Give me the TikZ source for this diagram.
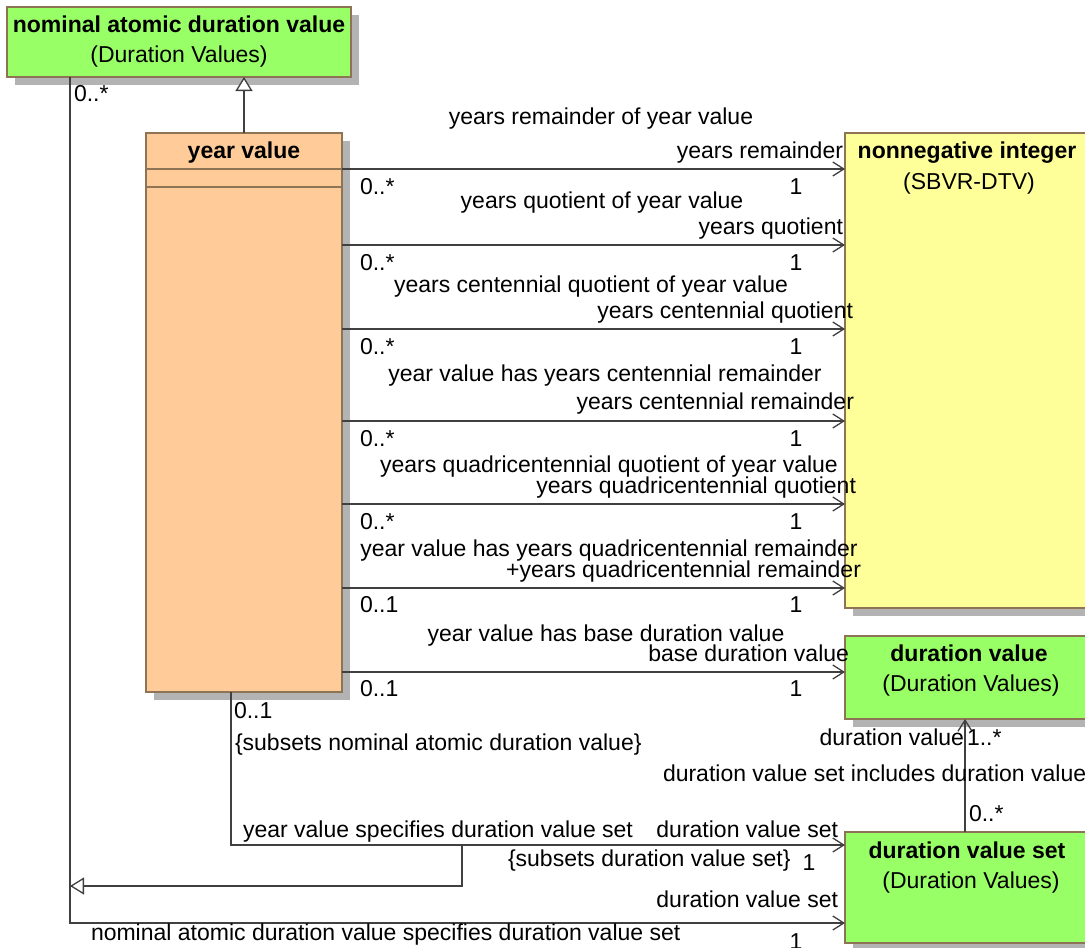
\documentclass[tikz,border=0pt]{standalone}
\usepackage{fontspec}
\setmainfont{Liberation Sans}
\usetikzlibrary{arrows.meta,shadows,calc}
\definecolor{boxgreen}{HTML}{99FF66}
\definecolor{boxyellow}{HTML}{FFFF99}
\definecolor{boxorange}{HTML}{FFCC99}
\definecolor{boxedge}{HTML}{8F7355}
\definecolor{shadowgray}{HTML}{B3B3B3}
\definecolor{linegray}{HTML}{404040}
\begin{document}
\begin{tikzpicture}[x=1pt,y=-1pt,
  every node/.style={font=\fontsize{23}{27}\selectfont, inner sep=0pt, outer sep=0pt},
  umlbox/.style={draw=boxedge, line width=1.3pt, anchor=north west,
    drop shadow={shadow xshift=8pt, shadow yshift=-8pt, fill=shadowgray, opacity=1}},
  assoc/.style={draw=linegray, line width=1.3pt, -{Straight Barb[length=11pt,width=14pt]}},
  plainline/.style={draw=linegray, line width=1.3pt},
  genline/.style={draw=linegray, line width=1.3pt, -{Triangle[open,length=14pt,width=17pt,fill=white]}},
  lblc/.style={anchor=base},
  lblw/.style={anchor=base west},
  lble/.style={anchor=base east},
  title/.style={anchor=base, font=\fontsize{23}{27}\selectfont\bfseries}
]
\useasboundingbox (0,0) rectangle (1085,948);
\fill[white] (0,0) rectangle (1085,948);
\clip (0,0) rectangle (1085,948);

% boxes
\node[umlbox, fill=boxgreen, minimum width=344pt, minimum height=70pt] (nad) at (7,7) {};
\node[umlbox, fill=boxorange, minimum width=196pt, minimum height=559pt] (yv) at (146,133) {};
\node[umlbox, fill=boxyellow, minimum width=250pt, minimum height=475pt] (ni) at (845,133) {};
\node[umlbox, fill=boxgreen, minimum width=250pt, minimum height=83pt] (dv) at (845,636) {};
\node[umlbox, fill=boxgreen, minimum width=250pt, minimum height=111pt] (dvs) at (845,832) {};

% box texts
\node[title] (nadt) at (179,32) {nominal atomic duration value};
\node[lblc] (nads) at (179,62) {(Duration Values)};
\node[title] (yvt) at (244,158) {year value};
\draw[draw=boxedge, line width=1.3pt] (yv.west |- 0,169) -- (yv.east |- 0,169);
\draw[draw=boxedge, line width=1.3pt] (yv.west |- 0,187) -- (yv.east |- 0,187);
\node[title] (nit) at (967,158) {nonnegative integer};
\node[lblc] (nis) at (969,189) {(SBVR-DTV)};
\node[title] (dvt) at (969,661) {duration value};
\node[lblc] (dvst) at (971,691) {(Duration Values)};
\node[title] (dvst1) at (967,858) {duration value set};
\node[lblc] (dvst2) at (971,888) {(Duration Values)};

% generalization year value -> nominal atomic duration value
\draw[genline] (yv.north) -- (yv.north |- nad.south);

% associations year value -> nonnegative integer
\foreach \yy in {169,245,329,421,504,588}{
  \draw[assoc] (yv.east |- 0,\yy) -- (ni.west |- 0,\yy);
}
\draw[assoc] (yv.east |- 0,672) -- (dv.west |- 0,672);

% labels L1
\node[lblc] (n1) at (601,124) {years remainder of year value};
\node[lble] (r1) at (843,158) {years remainder};
\node[lblw] (m1a) at (360,194) {0..*};
\node[lblc] (m1b) at (796,194) {1};
% L2
\node[lblc] (n2) at (602,208) {years quotient of year value};
\node[lble] (r2) at (843,234) {years quotient};
\node[lblw] (m2a) at (360,270) {0..*};
\node[lblc] (m2b) at (796,270) {1};
% L3
\node[lblc] (n3) at (591,292) {years centennial quotient of year value};
\node[lble] (r3) at (853,318) {years centennial quotient};
\node[lblw] (m3a) at (360,354) {0..*};
\node[lblc] (m3b) at (796,354) {1};
% L4
\node[lblc] (n4) at (605,381) {year value has years centennial remainder};
\node[lble] (r4) at (854,409) {years centennial remainder};
\node[lblw] (m4a) at (360,446) {0..*};
\node[lblc] (m4b) at (796,446) {1};
% L5
\node[lblc] (n5) at (609,472) {years quadricentennial quotient of year value};
\node[lble] (r5) at (856,493) {years quadricentennial quotient};
\node[lblw] (m5a) at (360,529) {0..*};
\node[lblc] (m5b) at (796,529) {1};
% L6
\node[lblc] (n6) at (609,556) {year value has years quadricentennial remainder};
\node[lble] (r6) at (861,577) {+years quadricentennial remainder};
\node[lblw] (m6a) at (360,612) {0..1};
\node[lblc] (m6b) at (796,612) {1};
% L7
\node[lblc] (n7) at (606,641) {year value has base duration value};
\node[lble] (r7) at (849,661) {base duration value};
\node[lblw] (m7a) at (360,696) {0..1};
\node[lblc] (m7b) at (796,696) {1};

% year value -> duration value set
\coordinate (yb1) at (231,845);
\draw[assoc] (yv.south -| yb1) -- (yb1) -- (dvs.west |- yb1);
\node[lblw] (m8a) at (234,718) {0..1};
\node[lblw] (c8) at (235,750) {\{subsets nominal atomic duration value\}};
\node[lblw] (n8) at (243,837) {year value specifies duration value set};
\node[lble] (r8) at (838,837) {duration value set};
\node[lblw] (c8b) at (508,866) {\{subsets duration value set\}};
\node[lblc] (m8b) at (809,870) {1};

% nominal atomic duration value -> duration value set
\coordinate (nb1) at (70,923);
\draw[assoc] (nad.south -| nb1) -- (nb1) -- (dvs.west |- nb1);
\node[lblw] (m9a) at (74,101) {0..*};
\node[lble] (r9) at (838,907) {duration value set};
\node[lblw] (n9) at (91,940) {nominal atomic duration value specifies duration value set};
\node[lblc] (m9b) at (796,949) {1};

% generalization between associations
\coordinate (ga) at (462,845);
\coordinate (gb) at (462,886);
\coordinate (gc) at (70,886);
\draw[genline] (ga) -- (gb) -- (gc);

% duration value set -> duration value
\draw[assoc] (dvs.north -| 965,0) -- (dv.south -| 965,0);
\node[lble] (r10) at (964,745) {duration value};
\node[lblw] (m10a) at (967,745) {1..*};
\node[lblw] (n10) at (663,781) {duration value set includes duration value};
\node[lblw] (m10b) at (969,821) {0..*};
\end{tikzpicture}
\end{document}
